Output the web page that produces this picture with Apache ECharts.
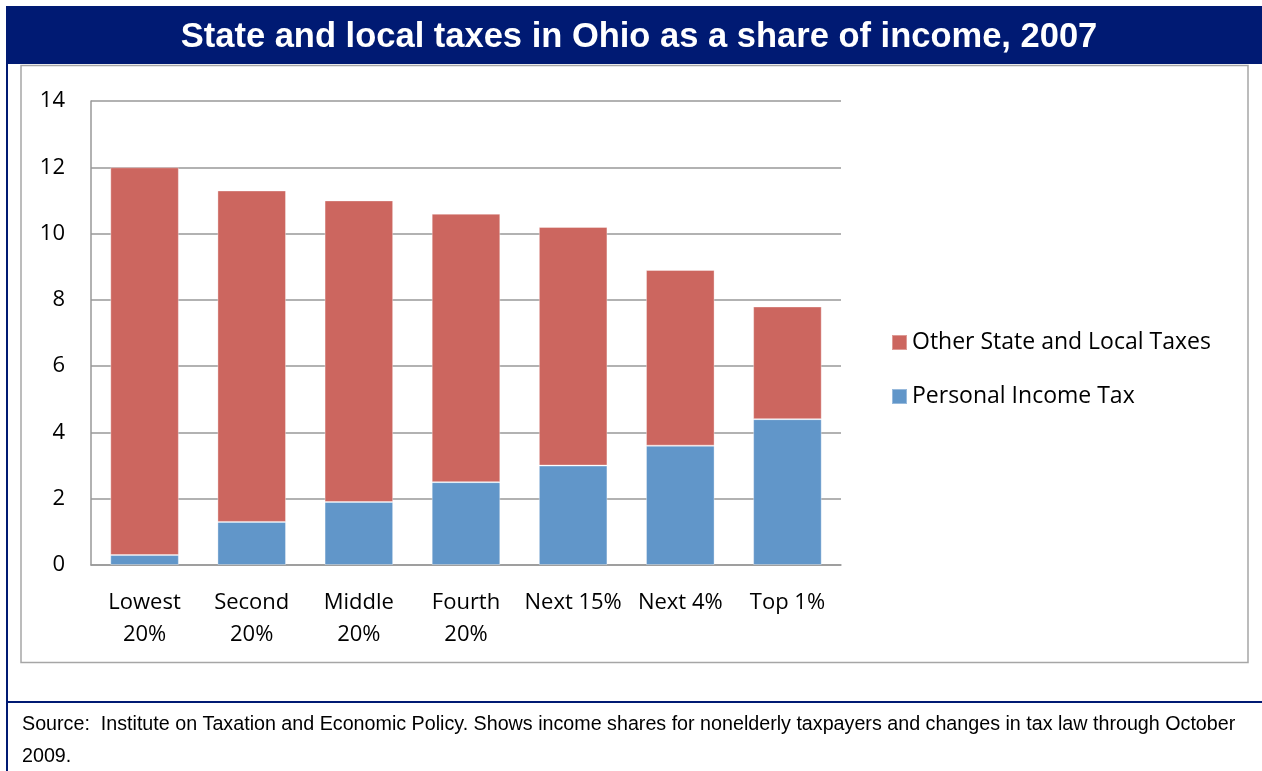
<!DOCTYPE html>
<html>
<head>
<meta charset="utf-8">
<script src="https://cdn.jsdelivr.net/npm/echarts@6/dist/echarts.min.js"></script>
<style>
  html, body { margin: 0; padding: 0; background: #fff; }
  #chart { width: 1262px; height: 771px; }
</style>
</head>
<body>
<div id="chart"></div>
<script>
const categories = ["Lowest\n20%", "Second\n20%", "Middle\n20%", "Fourth\n20%", "Next 15%", "Next 4%", "Top 1%"];
const personalIncomeTax = [0.3, 1.3, 1.9, 2.5, 3.0, 3.6, 4.4];
const otherTaxes = [11.7, 10.0, 9.1, 8.1, 7.2, 5.3, 3.4];
const yTicks = { min: 0, max: 14, interval: 2 };

const navy = "#001a73";
const labelFont = "'Open Sans', sans-serif";

const chart = echarts.init(document.getElementById("chart"));

chart.setOption({
  animation: false,
  title: [
    {
      text: "State and local taxes in Ohio as a share of income, 2007",
      left: 634,
      top: 15,
      textAlign: "center",
      textStyle: {
        color: "#fff",
        fontFamily: "'Liberation Sans', Arial, sans-serif",
        fontWeight: "bold",
        fontSize: 34.5,
      },
    },
    {
      text: "Source:  Institute on Taxation and Economic Policy. Shows income shares for nonelderly taxpayers and changes in tax law through October\n2009.",
      left: 17,
      top: 704,
      textStyle: {
        color: "#000",
        fontFamily: "'Liberation Sans', Arial, sans-serif",
        fontWeight: "normal",
        fontSize: 19.7,
        lineHeight: 32,
      },
    },
  ],
  graphic: [
    { type: "rect", shape: { x: 6, y: 6, width: 1256, height: 58 }, style: { fill: navy }, z: -1 },
    { type: "rect", shape: { x: 6, y: 6, width: 2, height: 765 }, style: { fill: navy }, z: -1 },
    { type: "rect", shape: { x: 6, y: 701, width: 1256, height: 2 }, style: { fill: navy }, z: -1 },
    {
      type: "rect",
      shape: { x: 21, y: 65.5, width: 1227, height: 597 },
      style: { fill: "none", stroke: "#a6a6a6", lineWidth: 1.5 },
      z: -1,
    },
  ],
  legend: {
    orient: "vertical",
    left: 886,
    top: 326,
    itemWidth: 15,
    itemHeight: 15,
    itemGap: 31,
    icon: "rect",
    data: ["Other State and Local Taxes", "Personal Income Tax"],
    textStyle: { fontFamily: labelFont, fontSize: 23, color: "#000", padding: [0, 0, 0, 0] },
  },
  grid: { left: 91, top: 101, right: 421, bottom: 206 },
  xAxis: {
    type: "category",
    data: categories,
    axisTick: { show: false },
    axisLine: { lineStyle: { color: "#999", width: 1.5 } },
    axisLabel: {
      color: "#000",
      fontFamily: labelFont,
      fontSize: 22,
      lineHeight: 32,
      margin: 22,
      interval: 0,
    },
  },
  yAxis: {
    type: "value",
    min: yTicks.min,
    max: yTicks.max,
    interval: yTicks.interval,
    axisLine: { show: true, lineStyle: { color: "#999", width: 1.5 } },
    axisTick: { show: false },
    splitLine: { lineStyle: { color: "#999", width: 1.5 } },
    axisLabel: { color: "#000", fontFamily: labelFont, fontSize: 22, margin: 26 },
  },
  series: [
    {
      name: "Personal Income Tax",
      type: "bar",
      stack: "total",
      barWidth: "64%",
      data: personalIncomeTax,
      itemStyle: { color: "#6196C9", borderColor: "rgba(255,255,255,0.35)", borderWidth: 1 },
    },
    {
      name: "Other State and Local Taxes",
      type: "bar",
      stack: "total",
      data: otherTaxes,
      itemStyle: { color: "#CC665F", borderColor: "rgba(255,255,255,0.35)", borderWidth: 1 },
    },
  ],
});
</script>
</body>
</html>
